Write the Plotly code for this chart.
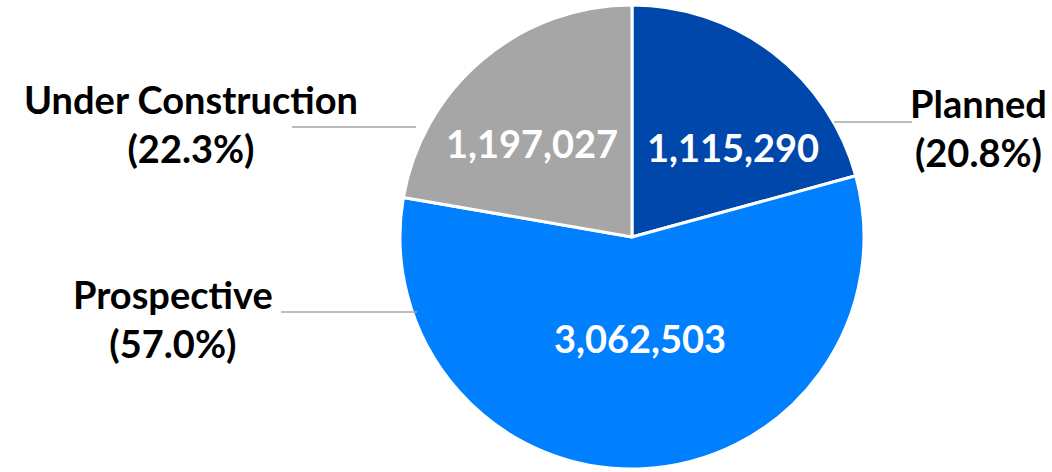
import plotly.graph_objects as go

categories = ["Planned", "Prospective", "Under Construction"]
values = [1115290, 3062503, 1197027]
colors = ["#0047AB", "#0080FF", "#A6A6A6"]

W, H = 1052, 472
total = sum(values)
pcts = [v / total * 100 for v in values]

cx, cy, R = 632, 237, 232

fig = go.Figure(go.Pie(
    labels=categories,
    values=values,
    sort=False,
    direction="clockwise",
    rotation=0,
    marker=dict(colors=colors, line=dict(color="white", width=3)),
    textinfo="none",
    hoverinfo="label+value+percent",
    showlegend=False,
    domain=dict(x=[(cx - R) / W, (cx + R) / W], y=[(H - cy - R) / H, (H - cy + R) / H]),
))

def px(x, y):
    return x / W, 1 - y / H

font_family = "Lato, 'Open Sans', sans-serif"
# inside value labels (pixel anchors)
inside_pos = [(733, 147), (640, 338), (532, 143)]
annotations = []
for (x, y), v in zip(inside_pos, values):
    ax, ay = px(x, y)
    annotations.append(dict(x=ax, y=ay, xref="paper", yref="paper", showarrow=False,
                            text=f"<b>{v:,}</b>", font=dict(family=font_family, size=38, color="white"),
                            xanchor="center", yanchor="middle"))

# outside labels
outside_pos = [(978, 127), (173, 318), (191, 123)]
for (x, y), c, p in zip(outside_pos, categories, pcts):
    ax, ay = px(x, y)
    annotations.append(dict(x=ax, y=ay, xref="paper", yref="paper", showarrow=False,
                            text=f"<b>{c}<br>({p:.1f}%)</b>", align="center",
                            font=dict(family=font_family, size=38, color="black"),
                            xanchor="center", yanchor="middle"))

leader = [(834, 122, 912, 122), (281, 312, 417, 312), (292, 127, 416, 127)]
shapes = []
for x0, y0, x1, y1 in leader:
    a0, b0 = px(x0, y0)
    a1, b1 = px(x1, y1)
    shapes.append(dict(type="line", xref="paper", yref="paper", x0=a0, y0=b0, x1=a1, y1=b1,
                       line=dict(color="#A6A6A6", width=1.3)))

fig.update_layout(
    width=W, height=H,
    margin=dict(l=0, r=0, t=0, b=0),
    paper_bgcolor="white", plot_bgcolor="white",
    annotations=annotations, shapes=shapes,
)

fig.write_html("out.html")
